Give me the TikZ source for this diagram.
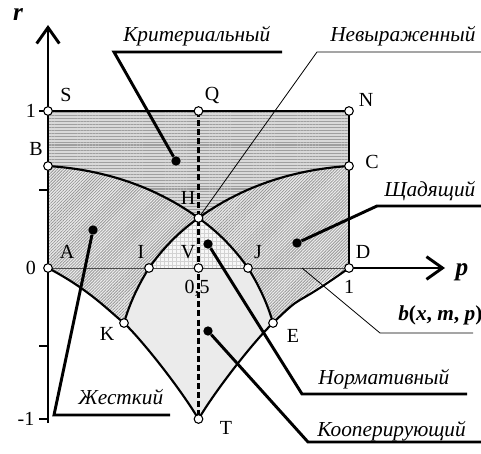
\documentclass[tikz,border=0pt]{standalone}
\usepackage{fontspec}
\setmainfont{Liberation Serif}
\usetikzlibrary{arrows.meta,patterns.meta}

\tikzset{
  ptc/.style={circle,draw=black,fill=white,line width=0.8pt,inner sep=0pt,minimum size=6.5pt},
  blackdot/.style={circle,fill=black,inner sep=0pt,minimum size=7pt},
  lbl/.style={font=\fontsize{15}{17}\selectfont,inner sep=0pt},
  axlbl/.style={font=\fontsize{19}{20}\selectfont\bfseries\itshape,inner sep=0pt},
  tag/.style={font=\fontsize{16}{18}\selectfont\itshape,inner sep=0pt,anchor=base west},
  bnd/.style={line width=1.6pt},
  lead/.style={line width=2.2pt},
  thinlead/.style={line width=0.6pt},
  axisline/.style={line width=2.2pt},
  barb/.style={-{Straight Barb[length=12pt,width=17pt,line width=2.2pt]}},
}

\begin{document}
\begin{tikzpicture}[x=0.75pt,y=-0.75pt]
\useasboundingbox (0,0) rectangle (481,453);
% points of the diagram
\coordinate (S) at (48,111);
\coordinate (Q) at (198.5,111);
\coordinate (N) at (349,111);
\coordinate (B) at (48,166);
\coordinate (C) at (349,166);
\coordinate (H) at (198.5,218);
\coordinate (O) at (48,268);
\coordinate (I) at (149,268);
\coordinate (V) at (198.5,268);
\coordinate (J) at (248,268);
\coordinate (D) at (349,268);
\coordinate (K) at (124,323);
\coordinate (E) at (273,323);
\coordinate (T) at (198.5,419);
% regions
\path[preaction={fill=gray!30},pattern={Lines[angle=0,distance=2.2pt,line width=0.8pt]},pattern color=gray!75]
  (S) -- (N) -- (C) .. controls (287,170) and (237,190) .. (H)
  .. controls (160,190) and (110,170) .. (B) -- cycle;
\path[preaction={fill=gray!15},pattern={Lines[angle=45,distance=1.6pt,line width=0.6pt]},pattern color=gray!80]
  (B) .. controls (110,170) and (160,190) .. (H)
  .. controls (179,231.7) and (162.3,249) .. (I)
  .. controls (137.9,285.6) and (129.5,303.8) .. (K)
  .. controls (110,312) and (90,290) .. (O) -- cycle;
\path[preaction={fill=gray!15},pattern={Lines[angle=45,distance=1.6pt,line width=0.6pt]},pattern color=gray!80]
  (C) .. controls (287,170) and (237,190) .. (H)
  .. controls (218,231.7) and (234.7,249) .. (J)
  .. controls (259.1,285.6) and (267.5,303.8) .. (E)
  .. controls (287,312) and (307,290) .. (D) -- cycle;
\path[preaction={fill=gray!6},pattern={Hatch[angle=0,distance=3pt,line width=0.3pt]},pattern color=gray!35]
  (I) .. controls (162.3,249) and (179,231.7) .. (H)
  .. controls (218,231.7) and (234.7,249) .. (J) -- cycle;
\path[fill=gray!16]
  (I) -- (J) .. controls (259.1,285.6) and (267.5,303.8) .. (E)
  .. controls (257,338) and (219,385) .. (T)
  .. controls (178,385) and (140,338) .. (K)
  .. controls (129.5,303.8) and (137.9,285.6) .. (I) -- cycle;
% boundaries
\draw[thinlead,black!70] (O) -- (D);
\draw[bnd] (S) -- (N) -- (D);
\draw[bnd] (B) .. controls (110,170) and (160,190) .. (H)
  .. controls (237,190) and (287,170) .. (C);
\draw[bnd] (K) .. controls (129.5,303.8) and (137.9,285.6) .. (I)
  .. controls (162.3,249) and (179,231.7) .. (H)
  .. controls (218,231.7) and (234.7,249) .. (J)
  .. controls (259.1,285.6) and (267.5,303.8) .. (E);
\draw[bnd] (O) .. controls (90,290) and (110,312) .. (K)
  .. controls (140,338) and (178,385) .. (T)
  .. controls (219,385) and (257,338) .. (E)
  .. controls (307,290) and (287,312) .. (D);
\draw[line width=2.2pt,dash pattern=on 4.5pt off 2.3pt] (Q) -- (T);
% axes
\coordinate (rbot) at (48,423);
\coordinate (rtop) at (48,25);
\coordinate (pend) at (445,268);
\draw[axisline,barb] (rbot) -- (rtop);
\draw[axisline,barb] (D) -- (pend);
\foreach \yy in {111,190,346,419}
  \draw[line width=1.2pt] (39,\yy) -- (48,\yy);
\node[axlbl] (rlab) at (18,15) {r};
\node[axlbl] (plab) at (462,272) {p};
\node[lbl] (one) at (31,111) {1};
\node[lbl] (zero) at (31,268) {0};
\node[lbl] (mone) at (26,419) {-1};
% point labels
\node[lbl] at (66,95) {S};
\node[lbl] at (212,95) {Q};
\node[lbl] at (366,100) {N};
\node[lbl] at (36,149) {B};
\node[lbl] at (372,162) {C};
\node[lbl] at (188,198) {H};
\node[lbl] at (67,252) {A};
\node[lbl] at (141,252) {I};
\node[lbl] at (188,252) {V};
\node[lbl] at (258,252) {J};
\node[lbl] at (363,252) {D};
\node[lbl] at (197,288) {0,5};
\node[lbl] at (349,287) {1};
\node[lbl] at (107,334) {K};
\node[lbl] at (293,336) {E};
\node[lbl] at (226,428) {T};
% callouts
\node[blackdot] (kd) at (176,161) {};
\coordinate (k1) at (114,52);
\coordinate (k2) at (282,52);
\draw[lead] (kd) -- (k1) -- (k2);
\node[tag] (ktag) at (123,42) {Критериальный};
\coordinate (n1) at (317,52);
\coordinate (n2) at (481,52);
\draw[thinlead] (H) -- (n1) -- (n2);
\node[tag] (ntag) at (330,42) {Невыраженный};
\node[blackdot] (sd) at (297,243) {};
\coordinate (s1) at (377,206);
\coordinate (s2) at (481,206);
\draw[lead] (sd) -- (s1) -- (s2);
\node[tag] (stag) at (384,196) {Щадящий};
\coordinate (bp) at (302,268);
\coordinate (b1) at (380,333);
\coordinate (b2) at (473,333);
\draw[thinlead] (bp) -- (b1) -- (b2);
\node[tag,font=\fontsize{16}{18}\selectfont\bfseries] (btag) at (398,320) {\textit{b}(\textit{x}, \textit{m}, \textit{p})};
\node[blackdot] (md) at (208,244) {};
\coordinate (m1) at (302,394);
\coordinate (m2) at (467,394);
\draw[lead] (md) -- (m1) -- (m2);
\node[tag] (mtag) at (318,384) {Нормативный};
\node[blackdot] (cd) at (208,331) {};
\coordinate (c1) at (308,442);
\coordinate (c2) at (481,442);
\draw[lead] (cd) -- (c1) -- (c2);
\node[tag] (ctag) at (317,436) {Кооперирующий};
\node[blackdot] (zd) at (93,230) {};
\coordinate (z1) at (54,415);
\coordinate (z2) at (170,415);
\draw[lead] (zd) -- (z1) -- (z2);
\node[tag] (ztag) at (78,404) {Жесткий};
% marked points
\foreach \pp in {S,Q,N,B,C,H,O,I,V,J,D,K,E,T}
  \node[ptc] at (\pp) {};
\end{tikzpicture}
\end{document}
